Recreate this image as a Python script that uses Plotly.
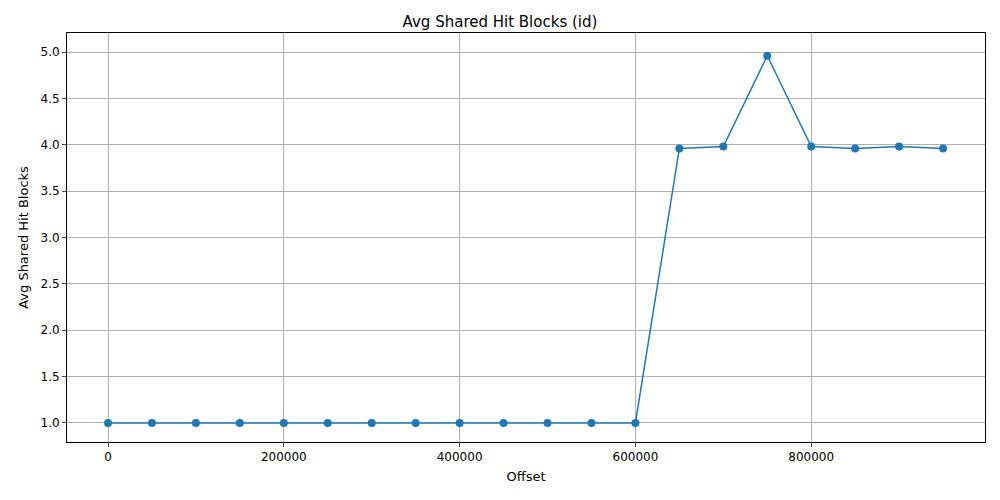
import plotly.graph_objects as go

offsets = list(range(0, 1000000, 50000))
avg_hit = [1.0] * 13 + [3.96, 3.98, 4.96, 3.98, 3.96, 3.98, 3.96]
x_ticks = [0, 200000, 400000, 600000, 800000]
y_ticks = [1.0, 1.5, 2.0, 2.5, 3.0, 3.5, 4.0, 4.5, 5.0]

fig = go.Figure()
fig.add_trace(go.Scatter(x=offsets, y=avg_hit, mode='lines+markers',
                         line=dict(color='#1f77b4', width=1.5),
                         marker=dict(color='#1f77b4', size=8)))

axis_style = dict(showgrid=True, gridcolor='#b0b0b0', gridwidth=1,
                  showline=True, linecolor='black', mirror=True,
                  ticks='outside', ticklen=4, zeroline=False,
                  tickfont=dict(size=12, color='black'))
# page body has an 8px margin, so the figure is a bit smaller than the window
fig.update_layout(
    width=984, height=484,
    plot_bgcolor='white', paper_bgcolor='white',
    font=dict(family='DejaVu Sans', color='black'),
    title=dict(text='Avg Shared Hit Blocks (id)', x=0.5, xanchor='center',
               y=0.971, yanchor='middle', font=dict(size=15)),
    margin=dict(l=59, r=7, t=25, b=50),
    showlegend=False,
    xaxis=dict(title=dict(text='Offset', font=dict(size=13), standoff=8),
               range=[-46650, 997700], tickvals=x_ticks,
               ticktext=[str(v) for v in x_ticks], **axis_style),
    yaxis=dict(title=dict(text='Avg Shared Hit Blocks', font=dict(size=13), standoff=8),
               range=[0.795, 5.205], tickvals=y_ticks,
               ticktext=['%.1f' % v for v in y_ticks], **axis_style),
)
fig.write_html("out.html")
